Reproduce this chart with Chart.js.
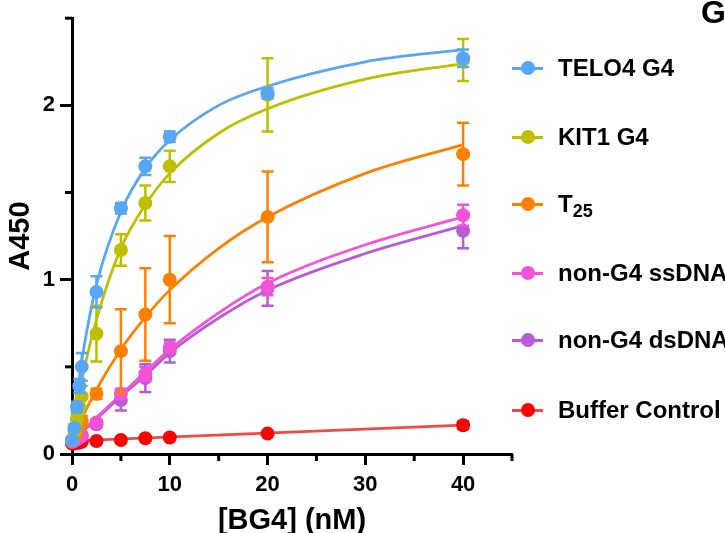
<!DOCTYPE html>
<html>
<head>
<meta charset="utf-8">
<script src="https://cdn.jsdelivr.net/npm/chart.js@4.4.1/dist/chart.umd.min.js"></script>
<style>
  html, body { margin: 0; padding: 0; background: #fff; }
  #wrap { position: relative; width: 725px; height: 533px; overflow: hidden; }
  #c { position: absolute; left: 0; top: 0; }
  .lg { position: absolute; left: 512px; height: 30px; width: 213px; font-family: 'Liberation Sans', Arial, Helvetica, sans-serif; font-weight: bold; font-size: 24px; color: #000; }
  .lg .ln { position: absolute; left: 0; top: 14px; width: 31px; height: 2.5px; }
  .lg .dot { position: absolute; left: 9px; top: 8px; width: 14px; height: 14px; border-radius: 50%; }
  .lg .tx { position: absolute; left: 46px; top: 0; line-height: 30px; white-space: nowrap; }
  .lg sub { font-size: 18px; line-height: 0; vertical-align: -5px; }
  #panel { position: absolute; left: 701px; top: -4px; font-family: 'Liberation Sans', Arial, sans-serif; font-weight: bold; font-size: 32px; line-height: 1; }
</style>
</head>
<body>
<div id="wrap">
  <canvas id="c" width="725" height="533" style="width:725px;height:533px"></canvas>
  <div id="legend"></div>
  <div id="panel">G</div>
</div>
<script>
// ---- data ----
const concentrations = [0, 0.25, 0.5, 0.75, 1, 2.5, 5, 7.5, 10, 20, 40];
const telo4 = [0.08, 0.15, 0.27, 0.39, 0.50, 0.93, 1.41, 1.65, 1.82, 2.07, 2.27];
const telo4Err = [0.01, 0.02, 0.03, 0.04, 0.08, 0.09, 0.03, 0.05, 0.03, 0.03, 0.05];
const kit1 = [0.08, 0.13, 0.20, 0.27, 0.33, 0.69, 1.17, 1.44, 1.65, 2.06, 2.26];
const kit1Err = [0.01, 0.02, 0.03, 0.04, 0.06, 0.16, 0.09, 0.10, 0.09, 0.21, 0.12];
const t25 = [0.08, 0.10, 0.13, 0.16, 0.19, 0.345, 0.59, 0.80, 1.00, 1.36, 1.72];
const t25Err = [0.01, 0.01, 0.02, 0.02, 0.03, 0.03, 0.24, 0.265, 0.25, 0.26, 0.18];
const ssDNA = [0.07, 0.08, 0.09, 0.10, 0.11, 0.18, 0.345, 0.46, 0.61, 0.96, 1.37];
const ssDNAErr = [0.01, 0.01, 0.01, 0.01, 0.01, 0.02, 0.03, 0.04, 0.03, 0.05, 0.06];
const dsDNA = [0.07, 0.075, 0.085, 0.095, 0.10, 0.17, 0.31, 0.435, 0.59, 0.95, 1.28];
const dsDNAErr = [0.01, 0.01, 0.01, 0.01, 0.01, 0.02, 0.06, 0.08, 0.065, 0.10, 0.10];
const buffer = [0.06, 0.06, 0.065, 0.065, 0.07, 0.075, 0.08, 0.09, 0.095, 0.117, 0.165];
const bufferErr = [0, 0, 0, 0, 0, 0.005, 0.005, 0.005, 0.005, 0.005, 0.02];

// fitted curves
const fitX = [0, 0.5, 1, 2.5, 5, 7.5, 10, 15, 20, 30, 40];
const telo4Fit = [0.08, 0.33, 0.535, 0.97, 1.39, 1.64, 1.80, 2.00, 2.11, 2.25, 2.32];
const kit1Fit = [0.08, 0.26, 0.42, 0.77, 1.18, 1.43, 1.61, 1.84, 1.98, 2.15, 2.24];
const t25Fit = [0.08, 0.144, 0.204, 0.37, 0.60, 0.785, 0.94, 1.18, 1.36, 1.61, 1.775];
const ssDNAFit = [0.08, 0.105, 0.13, 0.21, 0.34, 0.47, 0.60, 0.81, 0.98, 1.20, 1.36];
const dsDNAFit = [0.08, 0.10, 0.125, 0.20, 0.33, 0.45, 0.58, 0.78, 0.94, 1.15, 1.31];
const bufferFitX = [0, 40];
const bufferFit = [0.075, 0.165];

const seriesNames = ['TELO4 G4', 'KIT1 G4', 'T<sub>25</sub>', 'non-G4 ssDNA', 'non-G4 dsDNA', 'Buffer Control'];
const xTickLabels = ['0', '10', '20', '30', '40'];
const yTickLabels = ['0', '1', '2'];

// ---- styles ----
const pointColors = ['#58A6F6', '#BFBF00', '#FF8000', '#F552DA', '#B95BD6', '#FF0000'];
const lineColors  = ['#58A6F6', '#BFBF00', '#FF8000', '#F552DA', '#B95BD6', '#F24848'];
const FONT = "'Liberation Sans', Arial, Helvetica, sans-serif";

const pointSeries = [
  [telo4, telo4Err], [kit1, kit1Err], [t25, t25Err],
  [ssDNA, ssDNAErr], [dsDNA, dsDNAErr], [buffer, bufferErr]
];
const fitSeries = [
  [fitX, telo4Fit], [fitX, kit1Fit], [fitX, t25Fit],
  [fitX, ssDNAFit], [fitX, dsDNAFit], [bufferFitX, bufferFit]
];

const toXY = (xs, ys) => xs.map((x, i) => ({ x: x, y: ys[i] }));

const datasets = [];
pointSeries.forEach(([vals, errs], i) => {
  datasets.push({
    label: 'pts' + i,
    data: toXY(concentrations, vals),
    errors: errs,
    showLine: false,
    pointRadius: 7,
    pointHoverRadius: 7,
    pointBorderWidth: 0,
    backgroundColor: pointColors[i],
    borderColor: pointColors[i],
    clip: false,
    order: 0
  });
});
fitSeries.forEach(([xs, ys], i) => {
  datasets.push({
    label: 'fit' + i,
    data: toXY(xs, ys),
    showLine: true,
    pointRadius: 0,
    borderWidth: 2.75,
    borderColor: lineColors[i],
    cubicInterpolationMode: 'monotone',
    fill: false,
    clip: false,
    order: 1
  });
});

const errorBars = {
  id: 'errorBars',
  beforeDatasetDraw(chart, args) {
    const ds = chart.data.datasets[args.index];
    if (!ds.errors) return;
    const xs = chart.scales.x, ys = chart.scales.y, ctx = chart.ctx;
    ctx.save();
    ctx.strokeStyle = ds.borderColor;
    ctx.lineWidth = 2.5;
    ds.data.forEach((p, i) => {
      const e = ds.errors[i];
      if (!e) return;
      const px = xs.getPixelForValue(p.x);
      const y1 = ys.getPixelForValue(p.y + e);
      const y2 = ys.getPixelForValue(p.y - e);
      ctx.beginPath();
      ctx.moveTo(px, y1); ctx.lineTo(px, y2);
      ctx.moveTo(px - 6, y1); ctx.lineTo(px + 6, y1);
      ctx.moveTo(px - 6, y2); ctx.lineTo(px + 6, y2);
      ctx.stroke();
    });
    ctx.restore();
  }
};

const minorTicks = {
  id: 'minorTicks',
  beforeDatasetsDraw(chart) {
    const xs = chart.scales.x, ys = chart.scales.y, ctx = chart.ctx;
    const area = chart.chartArea;
    ctx.save();
    ctx.strokeStyle = '#000';
    ctx.lineWidth = 3;
    [5, 15, 25, 35, 45].forEach(v => {
      const px = xs.getPixelForValue(v);
      ctx.beginPath(); ctx.moveTo(px, area.bottom); ctx.lineTo(px, area.bottom + 7); ctx.stroke();
    });
    [0.5, 1.5, 2.5].forEach(v => {
      const py = ys.getPixelForValue(v);
      ctx.beginPath(); ctx.moveTo(area.left, py); ctx.lineTo(area.left - 7, py); ctx.stroke();
    });
    ctx.restore();
  }
};

new Chart(document.getElementById('c'), {
  type: 'scatter',
  data: { datasets: datasets },
  plugins: [errorBars, minorTicks],
  options: {
    responsive: false,
    animation: false,
    events: [],
    layout: { padding: { top: 14, right: 213, bottom: 0, left: 0 } },
    plugins: { legend: { display: false }, tooltip: { enabled: false } },
    scales: {
      x: {
        type: 'linear', position: 'bottom', min: 0, max: 45,
        afterFit: s => { s.height = 79; },
        ticks: {
          stepSize: 10, includeBounds: false, autoSkip: false, maxRotation: 0,
          padding: 7, color: '#000',
          font: { family: FONT, size: 22, weight: 'bold' },
          callback: (v) => xTickLabels[xTickLabels.indexOf(String(v))] ?? ''
        },
        grid: { drawOnChartArea: false, drawTicks: true, tickLength: 11, tickWidth: 3, tickColor: '#000' },
        border: { display: true, color: '#000', width: 3 },
        title: { display: true, text: '[BG4] (nM)', color: '#000', font: { family: FONT, size: 29, weight: 'bold' }, padding: { top: 0, bottom: -5 } }
      },
      y: {
        type: 'linear', position: 'left', min: 0, max: 2.5,
        afterFit: s => { s.width = 72; },
        ticks: {
          stepSize: 1, includeBounds: false, padding: 5, color: '#000',
          font: { family: FONT, size: 22, weight: 'bold' },
          callback: (v) => yTickLabels[yTickLabels.indexOf(String(v))] ?? ''
        },
        grid: { drawOnChartArea: false, drawTicks: true, tickLength: 12, tickWidth: 3, tickColor: '#000' },
        border: { display: true, color: '#000', width: 3 },
        title: { display: true, text: 'A450', color: '#000', font: { family: FONT, size: 29, weight: 'bold' }, padding: { top: 4, bottom: 0 } }
      }
    }
  }
});

// ---- legend ----
const legendY = [68, 137, 204, 273, 340, 410];
const lg = document.getElementById('legend');
seriesNames.forEach((name, i) => {
  const d = document.createElement('div');
  d.className = 'lg';
  d.style.top = (legendY[i] - 15) + 'px';
  d.innerHTML = '<div class="ln" style="background:' + lineColors[i] + '"></div>' +
                '<div class="dot" style="background:' + pointColors[i] + '"></div>' +
                '<div class="tx">' + name + '</div>';
  lg.appendChild(d);
});
</script>
</body>
</html>
